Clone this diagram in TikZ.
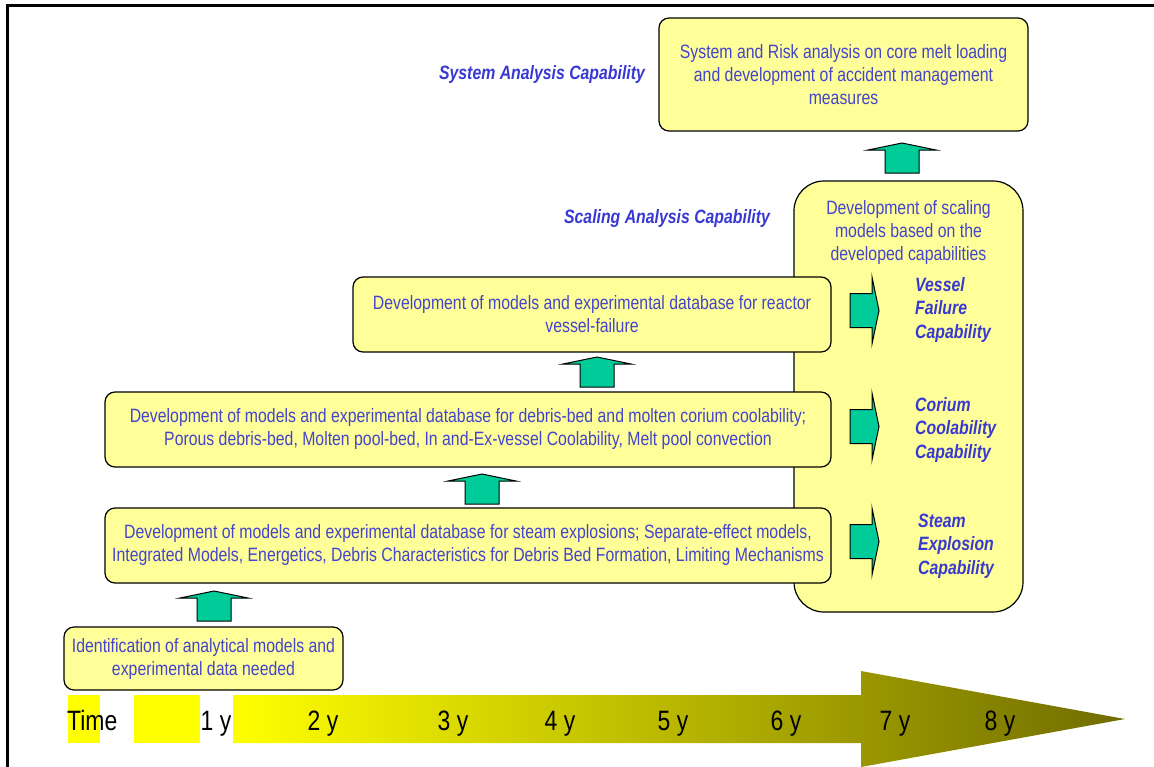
\documentclass[tikz,border=0pt]{standalone}
\usepackage{fontspec}
\setmainfont{Liberation Sans}[FakeStretch=0.82]
\usetikzlibrary{calc}
\definecolor{boxfill}{RGB}{255,255,153}
\definecolor{boxtext}{RGB}{68,68,204}
\definecolor{captext}{RGB}{56,56,210}
\definecolor{arrowgreen}{RGB}{0,204,153}
\definecolor{timeyellow}{RGB}{255,255,0}
\definecolor{timeolive}{RGB}{112,108,0}

\tikzset{
  stage/.style={draw=black, line width=1.2pt, fill=boxfill, rounded corners=10pt,
    align=center, text=boxtext, font=\fontsize{19.3}{23}\selectfont, inner sep=0pt},
  plain/.style={align=center, text=boxtext, font=\fontsize{19.3}{23}\selectfont, inner sep=0pt},
  caplabel/.style={text=captext, font=\fontsize{19.3}{23.5}\selectfont\bfseries\itshape,
    align=left, inner sep=0pt},
  yearlabel/.style={font=\fontsize{28}{30}\selectfont, text=black, inner sep=0pt, anchor=base},
  blockarrow/.style={draw=black, line width=1pt, fill=arrowgreen, line join=miter},
  pics/uparrow/.style={code={
    \draw[blockarrow] (0,0) -- (34,7) -- (17,7) -- (17,30) -- (-17,30) -- (-17,7) -- (-34,7) -- cycle;}},
  pics/rightarrow/.style={code={
    \draw[blockarrow] (0,0) -- (-7,-33.5) -- (-7,-17) -- (-29,-17) -- (-29,17) -- (-7,17) -- (-7,33.5) -- cycle;}},
}

\begin{document}
\begin{tikzpicture}[x=1pt, y=-1pt]
  \useasboundingbox (0,0) rectangle (1154,766);

  % page frame
  \draw[line width=3pt] (7,768) -- (7,5) -- (1156,5);

  % time axis
  \shade[left color=timeyellow, right color=timeolive]
    (233,695) -- (861,695) -- (861,671) -- (1125,719) -- (861,767) -- (861,743) -- (233,743) -- cycle;
  \fill[timeyellow] (68,695) rectangle (100,743);
  \fill[timeyellow] (134,695) rectangle (200,743);
  \node[yearlabel, anchor=base west] (time) at (67,730) {Time};
  \node[yearlabel] (y1) at (216,730) {1 y};
  \node[yearlabel] (y2) at (323,730) {2 y};
  \node[yearlabel] (y3) at (453,730) {3 y};
  \node[yearlabel] (y4) at (560,730) {4 y};
  \node[yearlabel] (y5) at (673,730) {5 y};
  \node[yearlabel] (y6) at (786,730) {6 y};
  \node[yearlabel] (y7) at (895,730) {7 y};
  \node[yearlabel] (y8) at (1000,730) {8 y};

  % scaling column (behind the stage boxes)
  \node[stage, rounded corners=30pt, minimum width=229pt, minimum height=431pt] (scale) at (908.5,396.5) {};
  \node[plain] (scaletext) at (908.5,233) {Development of scaling\\models based on the\\developed capabilities};

  % stage boxes
  \node[stage, minimum width=369pt, minimum height=113pt] (sys) at (843.5,74.5)
    {System and Risk analysis on core melt loading\\and development of accident management\\measures};
  \node[stage, minimum width=478pt, minimum height=75pt] (vessel) at (592,314.5)
    {Development of models and experimental database for reactor\\vessel-failure};
  \node[stage, minimum width=726pt, minimum height=75pt] (cool) at (468,429.5)
    {Development of models and experimental database for debris-bed and molten corium coolability;\\Porous debris-bed, Molten pool-bed, In and-Ex-vessel Coolability, Melt pool convection};
  \node[stage, minimum width=726pt, minimum height=75pt] (steam) at (468,545.5)
    {Development of models and experimental database for steam explosions; Separate-effect models,\\Integrated Models, Energetics, Debris Characteristics for Debris Bed Formation, Limiting Mechanisms};
  \node[stage, minimum width=279pt, minimum height=63pt] (ident) at (203.5,658.5)
    {Identification of analytical models and\\experimental data needed};

  % capability labels
  \node[caplabel] (syscap) at (542,75) {System Analysis Capability};
  \node[caplabel] (scalecap) at (667,219) {Scaling Analysis Capability};
  \node[caplabel, anchor=west] (vesselcap) at (915,310) {Vessel\\Failure\\Capability};
  \node[caplabel, anchor=west] (coolcap) at (915,430) {Corium\\Coolability\\Capability};
  \node[caplabel, anchor=west] (steamcap) at (918,546) {Steam\\Explosion\\Capability};

  % progression arrows between stages
  \pic at (214,591) {uparrow};
  \pic at (482,474) {uparrow};
  \pic at (597,357) {uparrow};
  \pic at (902,143) {uparrow};

  % arrows into the capabilities
  \pic at (879,310.5) {rightarrow};
  \pic at (879,426.5) {rightarrow};
  \pic at (879,541.5) {rightarrow};
\end{tikzpicture}
\end{document}
